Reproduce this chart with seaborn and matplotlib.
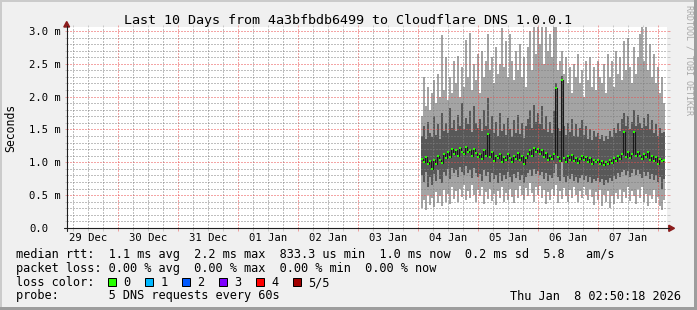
import numpy as np
import pandas as pd
import matplotlib
matplotlib.use("Agg")
import matplotlib.pyplot as plt
import matplotlib.dates as mdates
from matplotlib.patches import Rectangle, Polygon
from matplotlib.lines import Line2D
from matplotlib.ticker import MultipleLocator, FuncFormatter, NullFormatter
import seaborn as sns

# ---------------- data ----------------
title = "Last 10 Days from 4a3bfbdb6499 to Cloudflare DNS 1.0.0.1"
y_label = "Seconds"
watermark = "RRDTOOL / TOBI OETIKER"
x_start = "2025-12-29 03:22"
x_end = "2026-01-08 03:22"
data_start = "2026-01-04 01:05"
step_minutes = 48

# sorted ping values per time step, in ms (p1 .. p5)
ping_min = [0.30, 0.42, 0.27, 0.50, 0.35, 0.45, 0.32, 0.55, 0.38, 0.48,
            0.33, 0.58, 0.40, 0.52, 0.36, 0.62, 0.44, 0.56, 0.39, 0.60,
            0.47, 0.65, 0.42, 0.57, 0.45, 0.66, 0.50, 0.40, 0.58, 0.48,
            0.63, 0.37, 0.55, 0.44, 0.60, 0.41, 0.52, 0.35, 0.57, 0.46,
            0.62, 0.39, 0.54, 0.43, 0.60, 0.47, 0.38, 0.58, 0.45, 0.64,
            0.50, 0.42, 0.61, 0.48, 0.68, 0.53, 0.40, 0.62, 0.50, 0.64,
            0.45, 0.58, 0.36, 0.55, 0.42, 0.60, 0.48, 0.66, 0.38, 0.56,
            0.44, 0.61, 0.49, 0.40, 0.58, 0.46, 0.63, 0.51, 0.39, 0.57,
            0.45, 0.62, 0.50, 0.42, 0.60, 0.47, 0.35, 0.55, 0.43, 0.58,
            0.34, 0.50, 0.40, 0.56, 0.30, 0.48, 0.37, 0.53, 0.44, 0.60,
            0.38, 0.55, 0.46, 0.62, 0.41, 0.57, 0.49, 0.36, 0.59, 0.45,
            0.63, 0.40, 0.52, 0.33, 0.50, 0.44, 0.58, 0.38, 0.47, 0.34,
            0.27, 0.42]
ping_q1 = [0.80, 0.70, 0.85, 0.62, 0.78, 0.66, 0.82, 0.72, 0.88, 0.75,
           0.68, 0.86, 0.79, 0.90, 0.74, 0.92, 0.84, 0.88, 0.77, 0.93,
           0.85, 0.80, 0.94, 0.83, 0.89, 0.76, 0.91, 0.84, 0.78, 0.82,
           0.72, 0.88, 0.79, 0.86, 0.70, 0.84, 0.74, 0.81, 0.68, 0.83,
           0.72, 0.80, 0.75, 0.85, 0.78, 0.70, 0.82, 0.76, 0.86, 0.73,
           0.80, 0.69, 0.77, 0.84, 0.88, 0.79, 0.90, 0.82, 0.87, 0.81,
           0.86, 0.74, 0.83, 0.72, 0.80, 0.76, 0.84, 0.98, 0.78, 0.72,
           1.00, 0.77, 0.70, 0.79, 0.74, 0.82, 0.71, 0.78, 0.69, 0.76,
           0.81, 0.73, 0.79, 0.70, 0.77, 0.68, 0.75, 0.71, 0.76, 0.70,
           0.75, 0.66, 0.73, 0.69, 0.76, 0.72, 0.79, 0.74, 0.83, 0.77,
           0.85, 0.88, 0.80, 0.87, 0.78, 0.84, 0.90, 0.81, 0.88, 0.82,
           0.76, 0.85, 0.79, 0.86, 0.75, 0.82, 0.73, 0.80, 0.70, 0.77,
           0.60, 0.74]
ping_median = [1.05, 1.00, 1.08, 0.98, 1.02, 0.90, 1.04, 0.97, 1.10, 1.03,
               0.99, 1.12, 1.06, 1.15, 1.08, 1.20, 1.13, 1.18, 1.10, 1.22,
               1.16, 1.12, 1.24, 1.15, 1.19, 1.09, 1.21, 1.14, 1.08, 1.12,
               1.05, 1.18, 1.10, 1.43, 1.08, 1.15, 1.02, 1.10, 1.06, 1.13,
               1.00, 1.08, 1.04, 1.12, 1.07, 1.01, 1.10, 1.05, 1.14, 1.03,
               1.09, 0.98, 1.06, 1.12, 1.18, 1.10, 1.22, 1.15, 1.20, 1.12,
               1.18, 1.08, 1.14, 1.03, 1.10, 1.05, 1.12, 2.13, 1.08, 1.02,
               2.25, 1.06, 1.00, 1.09, 1.04, 1.11, 1.02, 1.07, 0.99, 1.05,
               1.10, 1.03, 1.08, 1.01, 1.06, 0.98, 1.04, 1.00, 1.03, 0.97,
               1.02, 0.96, 1.00, 0.97, 1.03, 0.99, 1.06, 1.02, 1.10, 1.05,
               1.12, 1.46, 1.08, 1.15, 1.06, 1.12, 1.46, 1.09, 1.16, 1.10,
               1.05, 1.13, 1.08, 1.15, 1.04, 1.10, 1.02, 1.08, 0.98, 1.05,
               1.02, 1.04]
ping_q3 = [1.40, 1.55, 1.35, 1.62, 1.45, 1.38, 1.70, 1.42, 1.58, 1.36,
           1.75, 1.48, 1.60, 1.44, 1.82, 1.52, 1.65, 1.47, 1.72, 1.55,
           1.90, 1.50, 1.68, 1.58, 1.78, 1.46, 1.85, 1.60, 1.52, 1.66,
           1.48, 1.80, 1.55, 1.98, 1.50, 1.70, 1.45, 1.62, 1.40, 1.75,
           1.47, 1.58, 1.42, 1.68, 1.50, 1.38, 1.64, 1.45, 1.72, 1.43,
           1.60, 1.37, 1.55, 1.66, 1.80, 1.52, 1.88, 1.62, 1.75, 1.58,
           1.85, 1.50, 1.70, 1.46, 1.62, 1.44, 1.78, 2.20, 1.52, 1.48,
           2.32, 1.55, 1.42, 1.60, 1.46, 1.66, 1.40, 1.58, 1.38, 1.52,
           1.64, 1.41, 1.56, 1.36, 1.50, 1.34, 1.48, 1.38, 1.45, 1.36,
           1.42, 1.33, 1.40, 1.35, 1.47, 1.39, 1.52, 1.44, 1.60, 1.48,
           1.66, 1.75, 1.55, 1.70, 1.50, 1.62, 1.80, 1.56, 1.72, 1.60,
           1.52, 1.68, 1.55, 1.74, 1.50, 1.64, 1.45, 1.58, 1.40, 1.52,
           1.44, 1.46]
ping_max = [1.70, 2.30, 1.85, 2.15, 1.80, 2.05, 2.25, 1.90, 2.35, 2.00,
            2.94, 2.10, 2.60, 1.95, 2.30, 2.05, 2.55, 2.20, 2.62, 2.00,
            2.45, 2.15, 2.86, 2.30, 2.97, 2.10, 2.50, 2.25, 2.65, 2.05,
            2.70, 2.30, 2.55, 2.95, 2.40, 2.60, 2.20, 2.75, 2.35, 2.50,
            3.05, 2.45, 2.85, 2.30, 2.95, 2.55, 2.25, 2.70, 2.40, 2.80,
            2.30, 2.60, 2.15, 2.75, 3.00, 2.40, 3.10, 2.65, 3.10, 2.80,
            3.10, 2.50, 3.10, 2.70, 2.95, 2.60, 3.10, 3.10, 2.40, 2.55,
            2.70, 2.35, 2.60, 2.20, 2.45, 2.05, 2.50, 2.30, 2.65, 2.20,
            2.40, 2.00, 2.55, 2.25, 2.60, 2.15, 2.45, 2.10, 2.55, 2.30,
            2.20, 2.50, 2.05, 2.65, 2.30, 2.55, 2.15, 2.70, 2.35, 2.60,
            2.25, 2.85, 2.40, 2.90, 2.45, 2.20, 2.75, 2.35, 2.60, 2.95,
            3.10, 2.55, 3.10, 2.40, 2.80, 2.30, 2.65, 2.20, 2.45, 2.05,
            2.30, 1.90]

y_ticks = [0.0, 0.5, 1.0, 1.5, 2.0, 2.5, 3.0]
y_tick_labels = ["0.0", "0.5 m", "1.0 m", "1.5 m", "2.0 m", "2.5 m", "3.0 m"]
y_max = 3.06

rtt_line = "median rtt:  1.1 ms avg  2.2 ms max  833.3 us min  1.0 ms now  0.2 ms sd  5.8   am/s"
loss_line = "packet loss: 0.00 % avg  0.00 % max  0.00 % min  0.00 % now"
loss_title = "loss color:"
loss_labels = ["0", "1", "2", "3", "4", "5/5"]
loss_colors = ["#26ff00", "#00b8ff", "#0059ff", "#7e00ff", "#ff0000", "#a10000"]
probe_line = "probe:       5 DNS requests every 60s"
timestamp = "Thu Jan  8 02:50:18 2026"

# ---------------- style ----------------
sns.set_style("white")
plt.rcParams["font.family"] = ["DejaVu Sans Mono", "DejaVu Sans"]
plt.rcParams["text.color"] = "black"

W, H = 697, 310
fig = plt.figure(figsize=(W / 100, H / 100), dpi=100, facecolor="#f0f0f0")

def fx(px):
    return px / W

def fy(py):
    return 1 - py / H

ax_left, ax_right, ax_top, ax_bot = 66.7, 666.7, 27.0, 228.0
ax = fig.add_axes([fx(ax_left), fy(ax_bot), (ax_right - ax_left) / W, (ax_bot - ax_top) / H])
ax.set_facecolor("white")
for s in ax.spines.values():
    s.set_visible(False)

times = pd.date_range(data_start, periods=len(ping_median), freq=f"{step_minutes}min")
x_left = mdates.date2num(times.to_pydatetime())
width = step_minutes / 1440.0
x_mid = x_left + width / 2

lo = np.array(ping_min); q1 = np.array(ping_q1); med = np.array(ping_median)
q3 = np.array(ping_q3); hi = np.array(ping_max)

# smoke
ax.bar(x_left, hi - lo, bottom=lo, width=width, align="edge", color="#a4a4a4",
       linewidth=0, zorder=1)
ax.bar(x_left, q3 - q1, bottom=q1, width=width, align="edge", color="#585858",
       linewidth=0, zorder=1.1)

df = pd.DataFrame({"t": x_mid, "median": med})
sns.lineplot(data=df, x="t", y="median", ax=ax, color="#1a1a1a", linewidth=0.8,
             drawstyle="steps-mid", estimator=None, zorder=3, legend=False)
sns.scatterplot(data=df, x="t", y="median", ax=ax, color=loss_colors[0], marker="s",
                s=3.0, linewidth=0, zorder=4, legend=False)

ax.set_xlim(mdates.date2num(pd.Timestamp(x_start)), mdates.date2num(pd.Timestamp(x_end)))
ax.set_ylim(0, y_max)
ax.set_xlabel("")
ax.set_ylabel("")

# grid
ax.xaxis.set_major_locator(mdates.DayLocator())
ax.xaxis.set_major_formatter(NullFormatter())
ax.xaxis.set_minor_locator(mdates.HourLocator(byhour=[6, 12, 18]))

def day_label(v, pos):
    d = mdates.num2date(v)
    return d.strftime("%d %b") if d.hour == 12 else ""

ax.xaxis.set_minor_formatter(FuncFormatter(day_label))
ax.yaxis.set_major_locator(MultipleLocator(0.5))
ax.yaxis.set_minor_locator(MultipleLocator(0.1))
ax.set_yticks(y_ticks, labels=y_tick_labels, ha="left")

ax.set_axisbelow(False)
major_c = (0.92, 0.30, 0.30, 0.50)
minor_c = (0.50, 0.50, 0.50, 0.35)
ax.grid(True, which="major", color=major_c, linewidth=0.72, linestyle=(0, (1, 2)), zorder=2.5)
ax.grid(True, which="minor", color=minor_c, linewidth=0.72, linestyle=(0, (1, 2)), zorder=2.5)

ax.tick_params(axis="both", which="major", direction="out", length=1.8, width=0.72,
               color=major_c)
ax.tick_params(axis="both", which="minor", direction="out", length=1.8, width=0.72,
               color=minor_c)
ax.tick_params(axis="x", which="minor", pad=1.8, labelsize=7.6, labelcolor="black")
ax.tick_params(axis="y", which="major", pad=25.3, labelsize=7.6, labelcolor="black",
               left=True, right=True)
ax.tick_params(axis="y", which="minor", left=True, right=True)
ax.tick_params(axis="x", which="both", bottom=True, top=True)

# axes lines and arrows
axis_c = "#1f1f1f"
arrow_c = "#8b1c1c"
fig.add_artist(Line2D([fx(ax_left), fx(ax_left)], [fy(231), fy(26)], color=axis_c,
                      linewidth=0.8, transform=fig.transFigure))
fig.add_artist(Line2D([fx(63.5), fx(669)], [fy(228.3), fy(228.3)], color=axis_c,
                      linewidth=0.8, transform=fig.transFigure))
fig.add_artist(Polygon([[fx(63.8), fy(27)], [fx(69.6), fy(27)], [fx(66.7), fy(21.5)]],
                       closed=True, color=arrow_c, transform=fig.transFigure))
fig.add_artist(Polygon([[fx(668.8), fy(225.2)], [fx(668.8), fy(231.4)], [fx(674.5), fy(228.3)]],
                       closed=True, color=arrow_c, transform=fig.transFigure))

# frame shading
fig.add_artist(Rectangle((0, fy(2)), 1, 2 / H, color="#cbcbcb", transform=fig.transFigure, lw=0))
fig.add_artist(Rectangle((0, 0), 2 / W, 1, color="#cbcbcb", transform=fig.transFigure, lw=0))
fig.add_artist(Rectangle((0, 0), 1, 3 / H, color="#9d9d9d", transform=fig.transFigure, lw=0))
fig.add_artist(Rectangle((1 - 3 / W, 0), 3 / W, 1, color="#9d9d9d", transform=fig.transFigure, lw=0))

# texts
fig.text(fx(348.5), fy(24), title, ha="center", va="baseline", fontsize=9.6)
fig.text(fx(11), fy(127.5), y_label, rotation=90, ha="center", va="center", fontsize=8.3)
fig.text(fx(688.5), fy(5), watermark, rotation=270, ha="center", va="top", fontsize=6,
         color="#a8a8a8")

leg_fs = 8.6
fig.text(fx(16), fy(258.3), rtt_line, ha="left", va="baseline", fontsize=leg_fs)
fig.text(fx(16), fy(272), loss_line, ha="left", va="baseline", fontsize=leg_fs)
fig.text(fx(16), fy(286), loss_title, ha="left", va="baseline", fontsize=leg_fs)
for k, (lab, col) in enumerate(zip(loss_labels, loss_colors)):
    bx = 108.3 + 37 * k
    fig.add_artist(Rectangle((fx(bx), fy(285.5)), 7.5 / W, 7.5 / H, facecolor=col,
                             edgecolor="black", linewidth=0.72, transform=fig.transFigure))
    fig.text(fx(bx + 15), fy(286), lab, ha="left", va="baseline", fontsize=leg_fs)
fig.text(fx(16), fy(299.5), probe_line, ha="left", va="baseline", fontsize=leg_fs)
fig.text(fx(681.5), fy(299.5), timestamp, ha="right", va="baseline", fontsize=leg_fs)

fig.savefig("out.png", dpi=100, facecolor=fig.get_facecolor())
